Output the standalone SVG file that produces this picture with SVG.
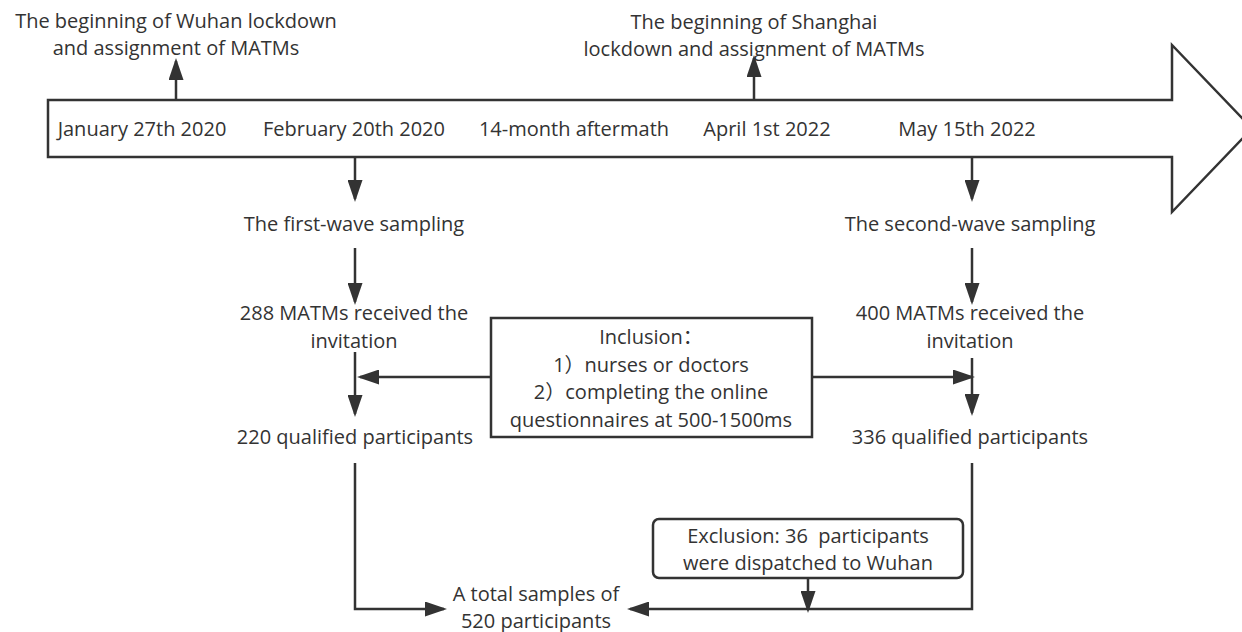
<svg xmlns="http://www.w3.org/2000/svg" width="1242" height="632" viewBox="0 0 1242 632">
<defs>
<style>
text{font-family:"Open Sans","Noto Sans CJK SC",sans-serif;font-size:20px;fill:#333;text-anchor:middle;white-space:pre}
.box{fill:#fff;stroke:#333;stroke-width:2.5}
.con{fill:none;stroke:#333;stroke-width:2.5}
</style>
<marker id="ah" markerUnits="userSpaceOnUse" markerWidth="22" markerHeight="15" refX="19" refY="7.5" orient="auto" viewBox="0 0 22 15">
<path d="M0,0 L22,7.5 L0,15 z" fill="#333"/>
</marker>
</defs>
<rect width="1242" height="632" fill="#fff"/>
<g id="timeline">
<polygon class="box" stroke-width="2" points="48,100 1172,100 1172,45 1252,128.5 1172,212 1172,157 48,157"/>
<text x="142" y="136">January 27th 2020</text>
<text x="354" y="136">February 20th 2020</text>
<text x="574" y="136">14-month aftermath</text>
<text x="767" y="136">April 1st 2022</text>
<text x="967" y="136">May 15th 2022</text>
</g>
<g id="wuhan-lockdown">
<text x="176" y="27.5">The beginning of Wuhan lockdown<tspan x="176" dy="27.5">and assignment of MATMs</tspan></text>
</g>
<g id="shanghai-lockdown">
<text x="754" y="28.5">The beginning of Shanghai<tspan x="754" dy="27.5">lockdown and assignment of MATMs</tspan></text>
</g>
<g id="first-wave">
<text x="354" y="231">The first-wave sampling</text>
</g>
<g id="first-invited">
<text x="354" y="320">288 MATMs received the<tspan x="354" dy="27.5">invitation</tspan></text>
</g>
<g id="first-qualified">
<text x="355" y="444">220 qualified participants</text>
</g>
<g id="second-wave">
<text x="970" y="231">The second-wave sampling</text>
</g>
<g id="second-invited">
<text x="970" y="320">400 MATMs received the<tspan x="970" dy="27.5">invitation</tspan></text>
</g>
<g id="second-qualified">
<text x="970" y="444">336 qualified participants</text>
</g>
<g id="inclusion">
<rect class="box" x="491" y="318" width="321" height="119"/>
<text x="651" y="344">Inclusion：<tspan x="651" dy="27.5">1）nurses or doctors</tspan><tspan x="651" dy="27.5">2）completing the online</tspan><tspan x="651" dy="27.5">questionnaires at 500-1500ms</tspan></text>
</g>
<g id="exclusion">
<rect class="box" x="653" y="519" width="310" height="59" rx="6"/>
<text x="808" y="542.5">Exclusion: 36  participants<tspan x="808" dy="27.5">were dispatched to Wuhan</tspan></text>
</g>
<g id="total">
<text x="536" y="600.5">A total samples of<tspan x="536" dy="27.5">520 participants</tspan></text>
</g>
<g id="connectors">
<path class="con" marker-end="url(#ah)" d="M176,99 V61"/>
<path class="con" marker-end="url(#ah)" d="M754,99 V58"/>
<path class="con" marker-end="url(#ah)" d="M355,158 V199"/>
<path class="con" marker-end="url(#ah)" d="M355,248 V302"/>
<path class="con" marker-end="url(#ah)" d="M355,352 V414"/>
<path class="con" marker-end="url(#ah)" d="M490,377 H360"/>
<path class="con" marker-end="url(#ah)" d="M972,158 V199"/>
<path class="con" marker-end="url(#ah)" d="M972,248 V302"/>
<path class="con" marker-end="url(#ah)" d="M972,358 V413"/>
<path class="con" marker-end="url(#ah)" d="M811,377 H972"/>
<path class="con" marker-end="url(#ah)" d="M355,463 V609 H444"/>
<path class="con" marker-end="url(#ah)" d="M972,463 V609 H630"/>
<path class="con" marker-end="url(#ah)" d="M808,578 V610"/>
</g>
</svg>
